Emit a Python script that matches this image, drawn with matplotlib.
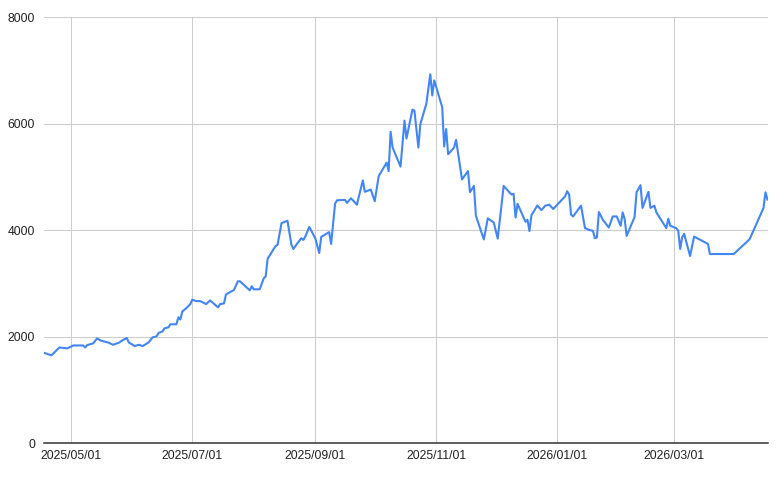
import matplotlib
matplotlib.use("Agg")
import matplotlib.pyplot as plt
import matplotlib.dates as mdates
import pandas as pd

# values
dates = [
    "2025-04-17", "2025-04-21", "2025-04-25", "2025-04-29", "2025-05-02", "2025-05-07",
    "2025-05-08", "2025-05-09", "2025-05-12", "2025-05-14", "2025-05-16", "2025-05-20",
    "2025-05-22", "2025-05-25", "2025-05-27", "2025-05-29", "2025-05-30", "2025-06-02",
    "2025-06-04", "2025-06-06", "2025-06-09", "2025-06-11", "2025-06-13", "2025-06-14",
    "2025-06-16", "2025-06-17", "2025-06-19", "2025-06-20", "2025-06-23", "2025-06-24",
    "2025-06-25", "2025-06-26", "2025-06-28", "2025-06-30", "2025-07-01", "2025-07-03",
    "2025-07-05", "2025-07-08", "2025-07-10", "2025-07-14", "2025-07-15", "2025-07-17",
    "2025-07-18", "2025-07-22", "2025-07-24", "2025-07-25", "2025-07-30", "2025-07-31",
    "2025-08-01", "2025-08-04", "2025-08-06", "2025-08-07", "2025-08-08", "2025-08-12",
    "2025-08-13", "2025-08-15", "2025-08-18", "2025-08-20", "2025-08-21", "2025-08-23",
    "2025-08-25", "2025-08-26", "2025-08-27", "2025-08-29", "2025-09-01", "2025-09-03",
    "2025-09-04", "2025-09-08", "2025-09-09", "2025-09-11", "2025-09-12", "2025-09-16",
    "2025-09-17", "2025-09-19", "2025-09-22", "2025-09-25", "2025-09-26", "2025-09-29",
    "2025-10-01", "2025-10-03", "2025-10-07", "2025-10-08", "2025-10-09", "2025-10-10",
    "2025-10-14", "2025-10-16", "2025-10-17", "2025-10-20", "2025-10-21", "2025-10-23",
    "2025-10-24", "2025-10-27", "2025-10-29", "2025-10-30", "2025-10-31", "2025-11-04",
    "2025-11-05", "2025-11-06", "2025-11-07", "2025-11-10", "2025-11-11", "2025-11-14",
    "2025-11-17", "2025-11-18", "2025-11-20", "2025-11-21", "2025-11-25", "2025-11-27",
    "2025-11-30", "2025-12-02", "2025-12-05", "2025-12-08", "2025-12-09", "2025-12-10",
    "2025-12-11", "2025-12-12", "2025-12-16", "2025-12-17", "2025-12-18", "2025-12-19",
    "2025-12-22", "2025-12-24", "2025-12-26", "2025-12-28", "2025-12-30", "2026-01-05",
    "2026-01-06", "2026-01-07", "2026-01-08", "2026-01-09", "2026-01-13", "2026-01-15",
    "2026-01-17", "2026-01-19", "2026-01-20", "2026-01-21", "2026-01-22", "2026-01-24",
    "2026-01-27", "2026-01-29", "2026-01-31", "2026-02-02", "2026-02-03", "2026-02-04",
    "2026-02-05", "2026-02-09", "2026-02-10", "2026-02-12", "2026-02-13", "2026-02-16",
    "2026-02-17", "2026-02-19", "2026-02-20", "2026-02-25", "2026-02-26", "2026-02-27",
    "2026-03-02", "2026-03-03", "2026-03-04", "2026-03-05", "2026-03-06", "2026-03-09",
    "2026-03-11", "2026-03-18", "2026-03-19", "2026-03-31", "2026-04-08", "2026-04-15",
    "2026-04-16", "2026-04-17",
]
values = [
    1700, 1650, 1797, 1780, 1835, 1835,
    1797, 1843, 1873, 1968, 1924, 1886,
    1848, 1886, 1937, 1975, 1892, 1824,
    1848, 1824, 1892, 1987, 2005, 2070,
    2100, 2157, 2176, 2233, 2233, 2365,
    2322, 2473, 2535, 2611, 2694, 2668,
    2668, 2611, 2681, 2549, 2611, 2624,
    2794, 2876, 3040, 3040, 2870, 2946,
    2889, 2889, 3092, 3130, 3462, 3703,
    3722, 4132, 4176, 3722, 3646, 3754,
    3848, 3816, 3879, 4060, 3848, 3570,
    3873, 3962, 3741, 4497, 4560, 4567,
    4510, 4598, 4478, 4933, 4719, 4762,
    4541, 5014, 5267, 5108, 5846, 5551,
    5192, 6054, 5721, 6262, 6243, 5551,
    5992, 6370, 6925, 6527, 6811, 6308,
    5570, 5897, 5424, 5551, 5695, 4951,
    5108, 4711, 4830, 4270, 3825, 4220,
    4144, 3840, 4830, 4705, 4668, 4683,
    4237, 4494, 4157, 4195, 3982, 4280,
    4462, 4375, 4459, 4478, 4397, 4635,
    4730, 4668, 4289, 4257, 4459, 4037,
    4005, 3986, 3848, 3860, 4340, 4195,
    4049, 4257, 4257, 4081, 4333, 4208,
    3892, 4246, 4711, 4844, 4416, 4719,
    4416, 4459, 4333, 4037, 4214, 4081,
    4037, 3992, 3646, 3867, 3930, 3513,
    3879, 3741, 3551, 3551, 3829, 4416,
    4711, 4573,
]
y_ticks = [0, 2000, 4000, 6000, 8000]
x_ticks = ["2025-05-01", "2025-07-01", "2025-09-01", "2025-11-01", "2026-01-01", "2026-03-01"]

df = pd.DataFrame({"date": pd.to_datetime(dates), "value": values})

plt.rcParams["font.family"] = ["Liberation Sans", "DejaVu Sans"]

fig = plt.figure(figsize=(7.77, 4.86), dpi=100)
ax = fig.add_axes([0.056, 0.088, 0.933, 0.877])

ax.plot(df["date"], df["value"], color="#4285F4", linewidth=1.5, solid_joinstyle="round", zorder=3)

ax.set_ylim(0, 8000)
ax.set_yticks(y_ticks)
ax.set_xlim(pd.Timestamp("2025-04-17"), pd.Timestamp("2026-04-17 12:00"))
ax.set_xticks(pd.to_datetime(x_ticks))
ax.xaxis.set_major_formatter(mdates.DateFormatter("%Y/%m/%d"))

ax.grid(True, color="#cccccc", linewidth=0.75)
ax.set_axisbelow(True)
for s in ["top", "right", "left"]:
    ax.spines[s].set_visible(False)
ax.spines["bottom"].set_color("#333333")
ax.spines["bottom"].set_linewidth(1.1)
ax.spines["bottom"].set_zorder(4)

ax.tick_params(axis="both", length=0, labelsize=8.7, labelcolor="#222222")
ax.tick_params(axis="y", pad=6)
ax.tick_params(axis="x", pad=5)

fig.savefig("out.png", dpi=100, facecolor="white")
